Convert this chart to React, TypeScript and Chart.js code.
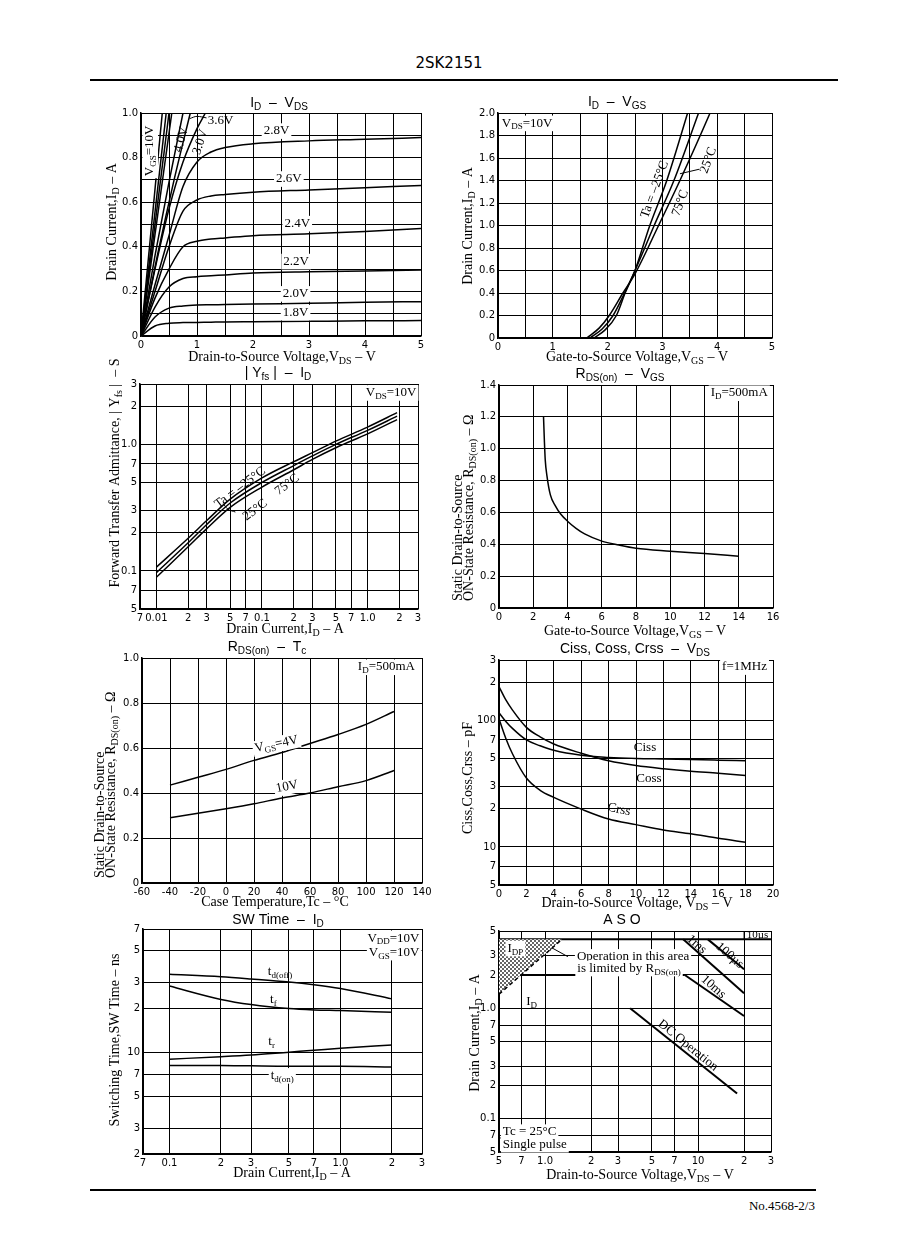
import React, { useEffect, useRef } from 'react';
import { Chart, registerables } from 'chart.js';
Chart.register(...registerables);

const PAD_L = 62, PAD_T = 28, PAD_R = 14, PAD_B = 40;
const SERIF = '"Liberation Serif", "DejaVu Serif", serif';
const SANS = '"DejaVu Sans", sans-serif';
const TSANS = '"Liberation Sans", Arial, sans-serif';

// ---------- Chart 1 : ID - VDS ----------
const c1XTicks = [0, 0.5, 1, 1.5, 2, 2.5, 3, 3.5, 4, 4.5, 5];
const c1XLabels = ['0', '', '1', '', '2', '', '3', '', '4', '', '5'];
const c1YTicks = [0, 0.1, 0.2, 0.3, 0.4, 0.5, 0.6, 0.7, 0.8, 0.9, 1.0];
const c1YLabels = ['0', '', '0.2', '', '0.4', '', '0.6', '', '0.8', '', '1.0'];
const c1VdsSat = [0, 0.25, 0.5, 0.75, 1, 1.25, 1.5, 2, 3, 4, 5];
const c1Id28 = [0, 0.23, 0.45, 0.67, 0.78, 0.825, 0.845, 0.862, 0.875, 0.882, 0.89];
const c1Id26 = [0, 0.2, 0.4, 0.56, 0.61, 0.628, 0.635, 0.645, 0.655, 0.665, 0.675];
const c1Id24 = [0, 0.17, 0.3, 0.4, 0.425, 0.435, 0.44, 0.45, 0.458, 0.469, 0.482];
const c1Id22 = [0, 0.13, 0.22, 0.258, 0.266, 0.27, 0.274, 0.282, 0.288, 0.292, 0.296];
const c1Id20 = [0, 0.085, 0.125, 0.135, 0.139, 0.14, 0.141, 0.143, 0.147, 0.151, 0.154];
const c1Id18 = [0, 0.045, 0.057, 0.06, 0.061, 0.062, 0.063, 0.064, 0.066, 0.068, 0.069];
const c1Vds10 = [0, 0.38];
const c1VdsA = [0, 0.45];
const c1VdsB = [0, 0.5];
const c1VdsC = [0, 0.55];
const c1IdSteep = [0, 1.0];
const c1Vds40 = [0, 0.25, 0.5, 0.75];
const c1Id40 = [0, 0.36, 0.69, 1.0];
const c1Vds36 = [0, 0.3, 0.6, 0.88];
const c1Id36 = [0, 0.37, 0.71, 1.0];
const c1Vds30 = [0, 0.25, 0.5, 0.75, 1, 1.15];
const c1Id30 = [0, 0.3, 0.57, 0.78, 0.93, 1.0];
const c1LeadX = [0.87, 1.0, 1.17];
const c1LeadY = [0.975, 0.985, 0.978];

// ---------- Chart 2 : ID - VGS ----------
const c2XTicks = [0, 0.5, 1, 1.5, 2, 2.5, 3, 3.5, 4, 4.5, 5];
const c2XLabels = ['0', '', '1', '', '2', '', '3', '', '4', '', '5'];
const c2YTicks = [0, 0.2, 0.4, 0.6, 0.8, 1.0, 1.2, 1.4, 1.6, 1.8, 2.0];
const c2YLabels = ['0', '0.2', '0.4', '0.6', '0.8', '1.0', '1.2', '1.4', '1.6', '1.8', '2.0'];
const c2VgsM25 = [1.75, 1.95, 2.16, 2.32, 2.5, 2.77, 3.08, 3.46, 3.52];
const c2IdM25 = [0, 0.07, 0.2, 0.4, 0.6, 1.0, 1.4, 2.0, 2.1];
const c2Vgs25 = [1.68, 1.9, 2.1, 2.3, 2.5, 2.85, 3.21, 3.66, 3.72];
const c2Id25 = [0, 0.08, 0.2, 0.39, 0.6, 1.0, 1.4, 2.0, 2.08];
const c2Vgs75 = [1.62, 1.85, 2.03, 2.28, 2.5, 2.93, 3.32, 3.87, 3.93];
const c2Id75 = [0, 0.09, 0.2, 0.4, 0.57, 1.0, 1.4, 2.0, 2.07];
const c2LeadX = [3.32, 3.67];
const c2LeadY = [1.46, 1.5];

// ---------- Chart 3 : |Yfs| - ID ----------
const c3XTicks = [0.007, 0.01, 0.02, 0.03, 0.05, 0.07, 0.1, 0.2, 0.3, 0.5, 0.7, 1, 2, 3];
const c3XLabels = ['7', '0.01', '2', '3', '5', '7', '0.1', '2', '3', '5', '7', '1.0', '2', '3'];
const c3YTicks = [0.05, 0.07, 0.1, 0.2, 0.3, 0.5, 0.7, 1, 2, 3];
const c3YLabels = ['5', '7', '0.1', '2', '3', '5', '7', '1.0', '2', '3'];
const c3Id = [0.01, 0.02, 0.03, 0.05, 0.1, 0.2, 0.3, 0.5, 1.0, 1.9];
const c3YfsM25 = [0.107, 0.181, 0.25, 0.369, 0.543, 0.73, 0.86, 1.06, 1.37, 1.78];
const c3Yfs25 = [0.097, 0.167, 0.233, 0.344, 0.5, 0.68, 0.81, 1.0, 1.29, 1.67];
const c3Yfs75 = [0.089, 0.155, 0.216, 0.318, 0.46, 0.63, 0.76, 0.94, 1.21, 1.57];
const c3LeadX = [0.043, 0.047, 0.056];
const c3LeadY = [0.34, 0.31, 0.292];

// ---------- Chart 4 : RDS(on) - VGS ----------
const c4XTicks = [0, 2, 4, 6, 8, 10, 12, 14, 16];
const c4XLabels = ['0', '2', '4', '6', '8', '10', '12', '14', '16'];
const c4YTicks = [0, 0.2, 0.4, 0.6, 0.8, 1.0, 1.2, 1.4];
const c4YLabels = ['0', '0.2', '0.4', '0.6', '0.8', '1.0', '1.2', '1.4'];
const c4Vgs = [2.6, 2.65, 2.7, 2.8, 3.0, 3.3, 3.6, 4, 4.5, 5, 6, 7, 8, 10, 12, 14];
const c4Rds = [1.2, 1.05, 0.93, 0.83, 0.71, 0.64, 0.59, 0.545, 0.5, 0.465, 0.42, 0.395, 0.375, 0.357, 0.342, 0.325];

// ---------- Chart 5 : RDS(on) - Tc ----------
const c5XTicks = [-60, -40, -20, 0, 20, 40, 60, 80, 100, 120, 140];
const c5XLabels = ['-60', '-40', '-20', '0', '20', '40', '60', '80', '100', '120', '140'];
const c5YTicks = [0, 0.2, 0.4, 0.6, 0.8, 1.0];
const c5YLabels = ['0', '0.2', '0.4', '0.6', '0.8', '1.0'];
const c5Tc = [-40, -20, 0, 20, 40, 60, 80, 100, 120];
const c5Rds4V = [0.435, 0.47, 0.505, 0.545, 0.58, 0.62, 0.66, 0.705, 0.762];
const c5Rds10V = [0.29, 0.31, 0.33, 0.352, 0.378, 0.4, 0.428, 0.455, 0.5];

// ---------- Chart 6 : Ciss, Coss, Crss - VDS ----------
const c6XTicks = [0, 2, 4, 6, 8, 10, 12, 14, 16, 18, 20];
const c6XLabels = ['0', '2', '4', '6', '8', '10', '12', '14', '16', '18', '20'];
const c6YTicks = [5, 7, 10, 20, 30, 50, 70, 100, 200, 300];
const c6YLabels = ['5', '7', '10', '2', '3', '5', '7', '100', '2', '3'];
const c6Vds = [0, 0.5, 1, 2, 3, 4, 6, 8, 10, 12, 14, 16, 18];
const c6Ciss = [115, 98, 86, 70, 63, 58, 53, 51, 50, 49.5, 49, 48.5, 48];
const c6Coss = [185, 145, 120, 88, 74, 65, 55, 48, 44, 41.5, 39.6, 38.2, 36.6];
const c6Crss = [103, 72, 54, 35, 28, 24.6, 19.9, 16.6, 15, 13.6, 12.7, 11.7, 10.9];

// ---------- Chart 7 : SW Time - ID ----------
const c7XTicks = [0.07, 0.1, 0.2, 0.3, 0.5, 0.7, 1, 2, 3];
const c7XLabels = ['7', '0.1', '2', '3', '5', '7', '1.0', '2', '3'];
const c7YTicks = [2, 3, 5, 7, 10, 20, 30, 50, 70];
const c7YLabels = ['2', '3', '5', '7', '10', '2', '3', '5', '7'];
const c7Id = [0.1, 0.2, 0.3, 0.5, 0.7, 1, 2];
const c7TdOff = [34.2, 32.9, 31.8, 30.3, 29, 27.3, 23.2];
const c7Tf = [28.4, 23, 21.2, 19.9, 19.5, 19.3, 18.8];
const c7Tr = [8.95, 9.3, 9.55, 10, 10.3, 10.65, 11.2];
const c7TdOn = [8.1, 8.1, 8.05, 8.0, 8.0, 8.0, 7.9];

// ---------- Chart 8 : ASO ----------
const c8XTicks = [0.5, 0.7, 1, 2, 3, 5, 7, 10, 20, 30];
const c8XLabels = ['5', '7', '1.0', '2', '3', '5', '7', '10', '2', '3'];
const c8YTicks = [0.05, 0.07, 0.1, 0.2, 0.3, 0.5, 0.7, 1, 2, 3, 5];
const c8YLabels = ['5', '7', '0.1', '2', '3', '5', '7', '1.0', '2', '3', '5'];
const c8HatchTopV = [0.5, 1.29];
const c8HatchTopI = [4.2, 4.2];
const c8RdsV = [0.5, 1.29];
const c8RdsI = [1.34, 4.2];
const c8IdpV = [0.5, 30];
const c8IdpI = [4.2, 4.2];
const c8IdV = [0.7, 8.2];
const c8IdI = [2.0, 2.0];
const c8Us10V = [20, 20];
const c8Us10I = [4.2, 5];
const c8Us100V = [11.6, 20];
const c8Us100I = [4.2, 2.25];
const c8Ms1V = [8.0, 20];
const c8Ms1I = [4.2, 1.37];
const c8Ms10V = [8.2, 20];
const c8Ms10I = [2.0, 0.85];
const c8DcV = [3.6, 18];
const c8DcI = [1.0, 0.169];
const c8ArrowV = [1.41, 1.08];
const c8ArrowI = [2.93, 3.59];
const c8NoteV = [0.5, 1.1];
const c8NoteI = [0.067, 0.067];

// ---------- helpers ----------
const pts = (xs: number[], ys: number[]) => xs.map((x, i) => ({ x, y: ys[i] }));
const curve = (xs: number[], ys: number[], extra: any = {}) => ({
  data: pts(xs, ys), borderColor: '#000', borderWidth: 1.5, pointRadius: 0, fill: false,
  cubicInterpolationMode: 'monotone', ...extra,
});
const seg = (xs: number[], ys: number[], extra: any = {}) => ({
  data: pts(xs, ys), borderColor: '#000', borderWidth: 1.5, pointRadius: 0, fill: false, tension: 0, ...extra,
});

function drawRich(ctx: CanvasRenderingContext2D, s: string, x: number, y: number, o: any) {
  const size = o.size || 13;
  const fam = o.family || SERIF;
  const parts: { t: string; sub: boolean }[] = [];
  let i = 0, buf = '';
  while (i < s.length) {
    if (s[i] === '_' && s[i + 1] === '{') {
      if (buf) { parts.push({ t: buf, sub: false }); buf = ''; }
      const j = s.indexOf('}', i);
      parts.push({ t: s.slice(i + 2, j), sub: true });
      i = j + 1;
    } else { buf += s[i]; i++; }
  }
  if (buf) parts.push({ t: buf, sub: false });
  const fMain = `${size}px ${fam}`;
  const fSub = `${Math.round(size * 0.72)}px ${fam}`;
  ctx.save();
  let w = 0;
  const ws = parts.map((p) => { ctx.font = p.sub ? fSub : fMain; const m = ctx.measureText(p.t).width; w += m; return m; });
  ctx.translate(x, y);
  if (o.rot) ctx.rotate((o.rot * Math.PI) / 180);
  let cx = o.align === 'left' ? 0 : o.align === 'right' ? -w : -w / 2;
  if (o.bg) { ctx.fillStyle = '#fff'; ctx.fillRect(cx - 2, -size * 0.58, w + 4, size * 1.2); }
  ctx.fillStyle = '#000'; ctx.textAlign = 'left'; ctx.textBaseline = 'middle';
  parts.forEach((p, k) => { ctx.font = p.sub ? fSub : fMain; ctx.fillText(p.t, cx, p.sub ? size * 0.3 : 0); cx += ws[k]; });
  ctx.restore();
}

function makeHatch() {
  const c = document.createElement('canvas');
  c.width = 4; c.height = 4;
  const g = c.getContext('2d')!;
  g.fillStyle = '#fff'; g.fillRect(0, 0, 4, 4);
  g.fillStyle = '#666';
  for (let i = 0; i < 4; i++) { g.fillRect(i, i, 1, 1); g.fillRect(3 - i, i, 1, 1); }
  return g.createPattern(c, 'repeat');
}

type Axis = { type: string; min: number; max: number; ticks: number[]; labels: string[] };
type Spec = { box: number[]; x: Axis; y: Axis; datasets: () => any[]; texts: any[]; page: any[] };

function scaleOpts(a: Axis, axis: 'x' | 'y') {
  return {
    type: a.type, min: a.min, max: a.max, position: axis === 'x' ? 'bottom' : 'left',
    afterBuildTicks: (s: any) => { s.ticks = a.ticks.map((v) => ({ value: v })); },
    afterFit: (s: any) => { if (axis === 'x') s.height = PAD_B; else s.width = PAD_L; },
    ticks: {
      autoSkip: false, maxRotation: 0, minRotation: 0, padding: 3, color: '#000',
      font: { family: SANS, size: 10 },
      callback: (_v: any, i: number) => a.labels[i] ?? '',
    },
    grid: { color: '#000', lineWidth: 1, drawTicks: false },
    border: { color: '#000', width: 1.5 },
  };
}

const specs: Spec[] = [
  {
    box: [141, 113, 421, 336],
    x: { type: 'linear', min: 0, max: 5, ticks: c1XTicks, labels: c1XLabels },
    y: { type: 'linear', min: 0, max: 1, ticks: c1YTicks, labels: c1YLabels },
    datasets: () => [
      curve(c1VdsSat, c1Id28), curve(c1VdsSat, c1Id26), curve(c1VdsSat, c1Id24),
      curve(c1VdsSat, c1Id22), curve(c1VdsSat, c1Id20), curve(c1VdsSat, c1Id18),
      seg(c1Vds10, c1IdSteep), seg(c1VdsA, c1IdSteep), seg(c1VdsB, c1IdSteep), seg(c1VdsC, c1IdSteep),
      curve(c1Vds40, c1Id40), curve(c1Vds36, c1Id36), curve(c1Vds30, c1Id30),
      curve(c1LeadX, c1LeadY, { borderWidth: 1 }),
    ],
    texts: [
      { x: 0.16, y: 0.83, t: 'V_{GS}=10V', rot: -90, bg: true },
      { x: 0.72, y: 0.88, t: '4.0V', rot: -75 },
      { x: 1.06, y: 0.87, t: '3.0V', rot: -72 },
      { x: 1.19, y: 0.965, t: '3.6V', align: 'left' },
      { x: 2.42, y: 0.92, t: '2.8V', bg: true },
      { x: 2.64, y: 0.705, t: '2.6V', bg: true },
      { x: 2.79, y: 0.505, t: '2.4V', bg: true },
      { x: 2.77, y: 0.335, t: '2.2V', bg: true },
      { x: 2.76, y: 0.19, t: '2.0V', bg: true },
      { x: 2.76, y: 0.106, t: '1.8V', bg: true },
    ],
    page: [
      { x: 279, y: 103, t: 'I_{D}  –  V_{DS}', font: TSANS, size: 14 },
      { x: 282, y: 357, t: 'Drain-to-Source Voltage,V_{DS} – V', size: 14 },
      { x: 112, y: 222, t: 'Drain Current,I_{D} – A', rot: -90, size: 14 },
    ],
  },
  {
    box: [498, 113, 772, 338],
    x: { type: 'linear', min: 0, max: 5, ticks: c2XTicks, labels: c2XLabels },
    y: { type: 'linear', min: 0, max: 2, ticks: c2YTicks, labels: c2YLabels },
    datasets: () => [
      curve(c2VgsM25, c2IdM25), curve(c2Vgs25, c2Id25), curve(c2Vgs75, c2Id75),
      seg(c2LeadX, c2LeadY, { borderWidth: 1 }),
    ],
    texts: [
      { x: 0.07, y: 1.91, t: 'V_{DS}=10V', align: 'left', bg: true },
      { x: 2.86, y: 1.32, t: 'Ta = –25°C', rot: -70 },
      { x: 3.84, y: 1.58, t: '25°C', rot: -70 },
      { x: 3.33, y: 1.2, t: '75°C', rot: -70 },
    ],
    page: [
      { x: 617, y: 102, t: 'I_{D}  –  V_{GS}', font: TSANS, size: 14 },
      { x: 637, y: 357, t: 'Gate-to-Source Voltage,V_{GS} – V', size: 14 },
      { x: 468, y: 226, t: 'Drain Current,I_{D} – A', rot: -90, size: 14 },
    ],
  },
  {
    box: [140, 384, 418, 609],
    x: { type: 'logarithmic', min: 0.007, max: 3, ticks: c3XTicks, labels: c3XLabels },
    y: { type: 'logarithmic', min: 0.05, max: 3, ticks: c3YTicks, labels: c3YLabels },
    datasets: () => [
      curve(c3Id, c3YfsM25), curve(c3Id, c3Yfs25), curve(c3Id, c3Yfs75),
      curve(c3LeadX, c3LeadY, { borderWidth: 1 }),
    ],
    texts: [
      { x: 0.062, y: 0.455, t: 'Ta = –25°C', rot: -37 },
      { x: 0.173, y: 0.48, t: '75°C', rot: -37 },
      { x: 0.0862, y: 0.303, t: '25°C', rot: -37 },
      { x: 2.9, y: 2.56, t: 'V_{DS}=10V', align: 'right', bg: true },
    ],
    page: [
      { x: 278, y: 373, t: '| Y_{fs} |  –  I_{D}', font: TSANS, size: 14 },
      { x: 285, y: 629, t: 'Drain Current,I_{D} – A', size: 14 },
      { x: 115, y: 473, t: 'Forward Transfer Admittance, | Y_{fs} |  – S', rot: -90, size: 14 },
    ],
  },
  {
    box: [499, 385, 773, 608],
    x: { type: 'linear', min: 0, max: 16, ticks: c4XTicks, labels: c4XLabels },
    y: { type: 'linear', min: 0, max: 1.4, ticks: c4YTicks, labels: c4YLabels },
    datasets: () => [curve(c4Vgs, c4Rds)],
    texts: [{ x: 15.7, y: 1.35, t: 'I_{D}=500mA', align: 'right', bg: true }],
    page: [
      { x: 620, y: 374, t: 'R_{DS(on)}  –  V_{GS}', font: TSANS, size: 14 },
      { x: 635, y: 631, t: 'Gate-to-Source Voltage,V_{GS} – V', size: 14 },
      { x: 458, y: 601, t: 'Static Drain-to-Source', rot: -90, align: 'left', size: 14 },
      { x: 469, y: 601, t: 'ON-State Resistance, R_{DS(on)} – Ω', rot: -90, align: 'left', size: 14 },
    ],
  },
  {
    box: [142, 658, 422, 883],
    x: { type: 'linear', min: -60, max: 140, ticks: c5XTicks, labels: c5XLabels },
    y: { type: 'linear', min: 0, max: 1.0, ticks: c5YTicks, labels: c5YLabels },
    datasets: () => [curve(c5Tc, c5Rds4V), curve(c5Tc, c5Rds10V)],
    texts: [
      { x: 135, y: 0.96, t: 'I_{D}=500mA', align: 'right', bg: true },
      { x: 36, y: 0.617, t: 'V_{GS}=4V', rot: -12, bg: true },
      { x: 43.6, y: 0.428, t: '10V', rot: -12, bg: true },
    ],
    page: [
      { x: 267, y: 647, t: 'R_{DS(on)}  –  T_{c}', font: TSANS, size: 14 },
      { x: 275, y: 902, t: 'Case Temperature,Tc – °C', size: 14 },
      { x: 100, y: 878, t: 'Static Drain-to-Source', rot: -90, align: 'left', size: 14 },
      { x: 111, y: 878, t: 'ON-State Resistance, R_{DS(on)} – Ω', rot: -90, align: 'left', size: 14 },
    ],
  },
  {
    box: [499, 660, 773, 885],
    x: { type: 'linear', min: 0, max: 20, ticks: c6XTicks, labels: c6XLabels },
    y: { type: 'logarithmic', min: 5, max: 300, ticks: c6YTicks, labels: c6YLabels },
    datasets: () => [curve(c6Vds, c6Ciss), curve(c6Vds, c6Coss), curve(c6Vds, c6Crss)],
    texts: [
      { x: 19.56, y: 265, t: 'f=1MHz', align: 'right', bg: true },
      { x: 10.66, y: 60.6, t: 'Ciss' },
      { x: 10.95, y: 34.5, t: 'Coss' },
      { x: 8.76, y: 19.7, t: 'Crss', rot: 12 },
    ],
    page: [
      { x: 635, y: 649, t: 'Ciss, Coss, Crss  –  V_{DS}', font: TSANS, size: 14 },
      { x: 637, y: 903, t: 'Drain-to-Source Voltage, V_{DS} – V', size: 14 },
      { x: 468, y: 778, t: 'Ciss,Coss,Crss – pF', rot: -90, size: 14 },
    ],
  },
  {
    box: [143, 929, 422, 1154],
    x: { type: 'logarithmic', min: 0.07, max: 3, ticks: c7XTicks, labels: c7XLabels },
    y: { type: 'logarithmic', min: 2, max: 70, ticks: c7YTicks, labels: c7YLabels },
    datasets: () => [curve(c7Id, c7TdOff), curve(c7Id, c7Tf), curve(c7Id, c7Tr), curve(c7Id, c7TdOn)],
    texts: [
      { x: 0.443, y: 35.6, t: 't_{d(off)}' },
      { x: 0.405, y: 22.8, t: 't_{f}' },
      { x: 0.396, y: 11.8, t: 't_{r}' },
      { x: 0.457, y: 6.9, t: 't_{d(on)}', bg: true },
      { x: 2.9, y: 60.6, t: 'V_{DD}=10V', align: 'right', bg: true },
      { x: 2.9, y: 48.4, t: 'V_{GS}=10V', align: 'right', bg: true },
    ],
    page: [
      { x: 278, y: 920, t: 'SW Time  –  I_{D}', font: TSANS, size: 14 },
      { x: 292, y: 1173, t: 'Drain Current,I_{D} – A', size: 14 },
      { x: 115, y: 1040, t: 'Switching Time,SW Time – ns', rot: -90, size: 14 },
    ],
  },
  {
    box: [499, 931, 771, 1152],
    x: { type: 'logarithmic', min: 0.5, max: 30, ticks: c8XTicks, labels: c8XLabels },
    y: { type: 'logarithmic', min: 0.05, max: 5, ticks: c8YTicks, labels: c8YLabels },
    datasets: () => [
      seg(c8HatchTopV, c8HatchTopI, { borderWidth: 0 }),
      seg(c8RdsV, c8RdsI, { borderDash: [4, 3], fill: '-1', backgroundColor: makeHatch() }),
      seg(c8IdpV, c8IdpI, { borderWidth: 2 }),
      seg(c8IdV, c8IdI, { borderWidth: 2 }),
      seg(c8Us10V, c8Us10I, { borderWidth: 1 }),
      seg(c8Us100V, c8Us100I, { borderWidth: 2 }),
      seg(c8Ms1V, c8Ms1I, { borderWidth: 2 }),
      seg(c8Ms10V, c8Ms10I, { borderWidth: 2 }),
      seg(c8DcV, c8DcI, { borderWidth: 2 }),
      seg(c8ArrowV, c8ArrowI, {
        borderWidth: 1, pointRadius: [0, 3.5], pointStyle: 'triangle', pointRotation: -61,
        pointBackgroundColor: '#000', pointBorderColor: '#000',
      }),
      seg(c8NoteV, c8NoteI, { borderWidth: 1 }),
    ],
    texts: [
      { x: 0.64, y: 3.49, t: 'I_{DP}', bg: true },
      { x: 0.818, y: 1.15, t: 'I_{D}' },
      { x: 3.76, y: 2.93, t: 'Operation in this area', bg: true },
      { x: 3.54, y: 2.3, t: 'is limited by R_{DS(on)}', bg: true },
      { x: 9.8, y: 3.78, t: '1ms', rot: 41 },
      { x: 16.1, y: 3.0, t: '100µs', rot: 41 },
      { x: 12.6, y: 1.56, t: '10ms', rot: 41 },
      { x: 8.6, y: 0.46, t: 'DC Operation', rot: 39 },
      { x: 24.5, y: 4.6, t: '10µs', size: 11 },
      { x: 0.53, y: 0.076, t: 'Tc = 25°C', align: 'left', bg: true },
      { x: 0.53, y: 0.0585, t: 'Single pulse', align: 'left', bg: true },
    ],
    page: [
      { x: 622, y: 920, t: 'A S O', font: TSANS, size: 14 },
      { x: 640, y: 1175, t: 'Drain-to-Source Voltage,V_{DS} – V', size: 14 },
      { x: 475, y: 1033, t: 'Drain Current,I_{D} – A', rot: -90, size: 14 },
    ],
  },
];

function textPlugin(spec: Spec) {
  return {
    id: 'richText',
    afterDatasetsDraw(chart: any) {
      const ctx = chart.ctx;
      const sx = chart.scales.x, sy = chart.scales.y;
      for (const a of spec.texts) {
        drawRich(ctx, a.t, sx.getPixelForValue(a.x), sy.getPixelForValue(a.y), {
          size: a.size || 13, family: SERIF, align: a.align, rot: a.rot, bg: a.bg,
        });
      }
      const ox = spec.box[0] - PAD_L, oy = spec.box[1] - PAD_T;
      for (const p of spec.page) {
        drawRich(ctx, p.t, p.x - ox, p.y - oy, { size: p.size || 13, family: p.font || SERIF, align: p.align, rot: p.rot });
      }
    },
  };
}

function Plot({ spec }: { spec: Spec }) {
  const ref = useRef<HTMLCanvasElement>(null);
  const [L, T, R, B] = spec.box;
  const W = R - L + PAD_L + PAD_R;
  const H = B - T + PAD_T + PAD_B;
  useEffect(() => {
    const chart = new Chart(ref.current as HTMLCanvasElement, {
      type: 'line',
      data: { datasets: spec.datasets() },
      options: {
        animation: false,
        responsive: false,
        events: [],
        layout: { padding: { left: 0, top: PAD_T, right: PAD_R, bottom: 0 } },
        plugins: { legend: { display: false }, tooltip: { enabled: false }, title: { display: false } },
        scales: { x: scaleOpts(spec.x, 'x'), y: scaleOpts(spec.y, 'y') } as any,
      },
      plugins: [textPlugin(spec)],
    } as any);
    return () => chart.destroy();
  }, [spec]);
  return (
    <canvas
      ref={ref}
      width={W}
      height={H}
      style={{ position: 'absolute', left: L - PAD_L, top: T - PAD_T, width: W, height: H }}
    />
  );
}

export default function App() {
  return (
    <div style={{ position: 'absolute', left: 0, top: 0, width: 898, height: 1260, background: '#fff', overflow: 'hidden' }}>
      <div style={{ position: 'absolute', left: 349, top: 55, width: 200, textAlign: 'center', font: '15px "DejaVu Sans", sans-serif', lineHeight: '16px', color: '#000' }}>
        2SK2151
      </div>
      <div style={{ position: 'absolute', left: 90, top: 79, width: 748, height: 2, background: '#000' }} />
      {specs.map((s, i) => (
        <Plot key={i} spec={s} />
      ))}
      <div style={{ position: 'absolute', left: 90, top: 1189, width: 726, height: 2, background: '#000' }} />
      <div style={{ position: 'absolute', left: 615, top: 1198, width: 200, textAlign: 'right', font: '13px "Liberation Serif", serif', lineHeight: '16px', color: '#000' }}>
        No.4568-2/3
      </div>
    </div>
  );
}
